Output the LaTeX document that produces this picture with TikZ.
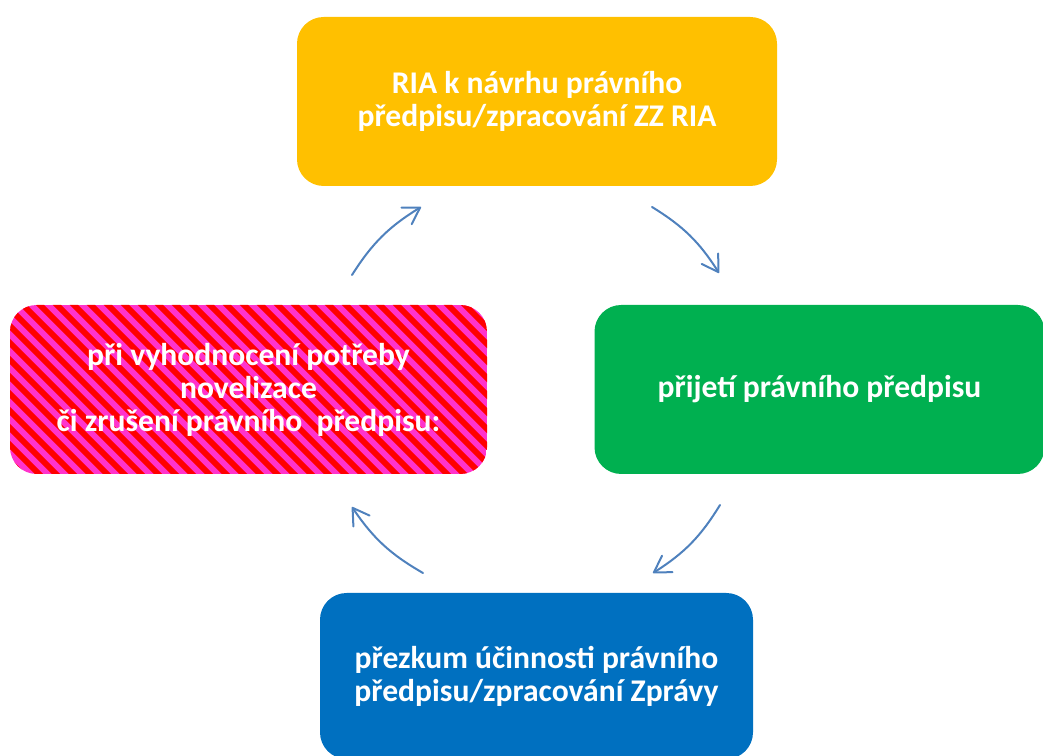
\documentclass[tikz,border=0pt]{standalone}
\usepackage{fontspec}
\setmainfont{Carlito}
\usetikzlibrary{arrows.meta}
\definecolor{ybox}{HTML}{FFC000}
\definecolor{gbox}{HTML}{00B050}
\definecolor{bbox}{HTML}{0070C0}
\definecolor{pmag}{HTML}{FF33CC}
\definecolor{pred}{HTML}{FF0000}
\definecolor{arrc}{HTML}{4F81BD}
\begin{document}
\begin{tikzpicture}[x=0.75pt,y=0.75pt,
  box/.style={rectangle, rounded corners=20pt, inner sep=0pt, align=center,
    text=white, font=\fontsize{23.7}{24.75}\selectfont\bfseries,
    minimum height=126.75pt},
  stripe/.style={pred, line width=4.4pt},
  arr/.style={draw=arrc, line width=1.5pt, line cap=round,
    -{Straight Barb[angle=63:14pt, line width=1.5pt, round]}}
]
\useasboundingbox (0,0) rectangle (1043,756);
\begin{scope}
\clip (0,0) rectangle (1043,756);
\node[box, fill=ybox, minimum width=360pt] (ria) at (537,654.5)
  {RIA k návrhu právního\\předpisu/zpracování ZZ RIA};
\node[box, fill=gbox, minimum width=337.5pt] (prij) at (819.5,366.5)
  {přijetí právního předpisu};
\node[box, fill=bbox, minimum width=324.75pt, minimum height=124.5pt] (prez) at (536.5,80)
  {přezkum účinnosti právního\\předpisu/zpracování Zprávy};
\end{scope}
% striped background of the left box
\begin{scope}
\clip[rounded corners=20pt] (10,282) rectangle (487,451);
\fill[pmag] (10,282) rectangle (487,451);
\foreach \k in {-190,-173,...,500}
  \draw[stripe] (\k,460) -- ({\k+190},270);
\end{scope}
\node[box, minimum width=357.75pt] (novel) at (248.5,366.5)
  {při vyhodnocení potřeby\\novelizace\\či zrušení právního~ předpisu:};
\coordinate (a1s) at (352,481);
\coordinate (a1e) at (421,549);
\coordinate (a2s) at (652,549);
\coordinate (a2e) at (719,483);
\coordinate (a3s) at (720,251);
\coordinate (a3e) at (653,183);
\coordinate (a4s) at (423,183);
\coordinate (a4e) at (352,249);
\draw[arr] (a1s) to[bend left=13] (a1e);
\draw[arr] (a2s) to[bend left=13] (a2e);
\draw[arr] (a3s) to[bend left=13] (a3e);
\draw[arr] (a4s) to[bend left=13] (a4e);
\end{tikzpicture}
\end{document}
